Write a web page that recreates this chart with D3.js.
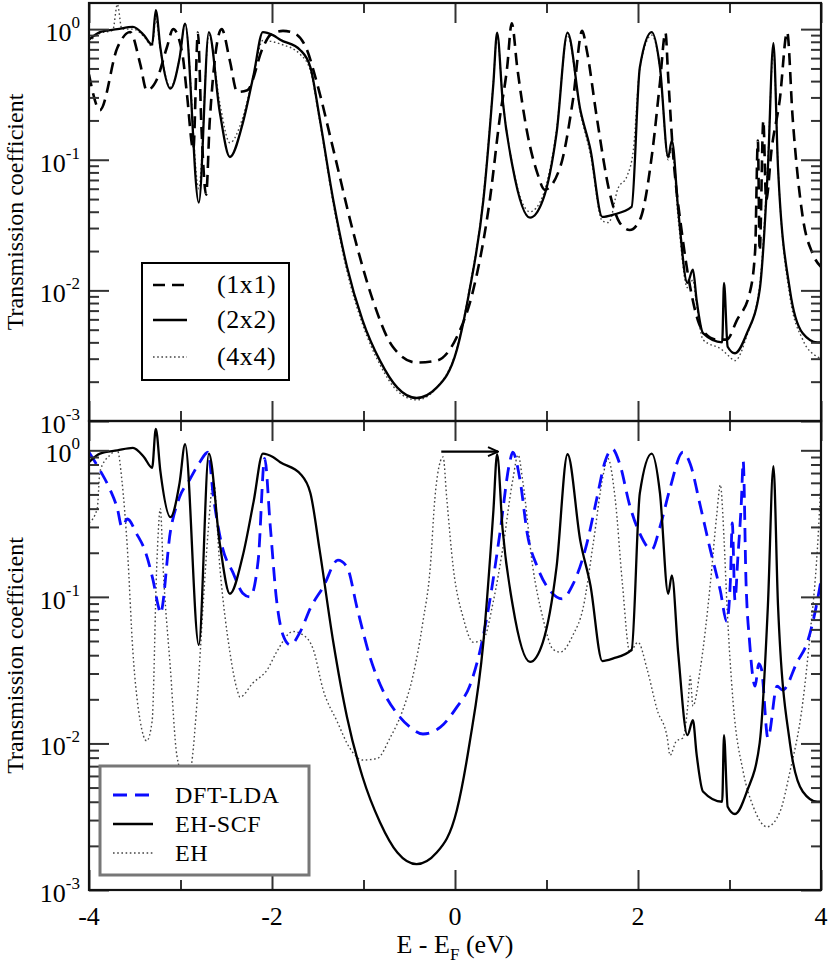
<!DOCTYPE html>
<html><head><meta charset="utf-8">
<script src="https://cdn.jsdelivr.net/npm/d3@7"></script>
<style>
body{margin:0;background:#fff;}
svg{display:block;}
text{font-family:'Liberation Serif','Times New Roman',Times,'DejaVu Serif',serif;}
</style></head><body>
<svg id="chart" width="830" height="965" font-family="Liberation Serif, Times New Roman, DejaVu Serif, serif"></svg>
<script>
// ---------- data ----------
const xMajor = [-4,-2,0,2,4];
const xMinor = [-3,-1,1,3];
const xLabels = ["-4","-2","0","2","4"];
const yMajor = [1e-3,1e-2,1e-1,1];
const yExp = ["-3","-2","-1","0"];
const yTitle = "Transmission coefficient";
const legendTop = ["(1x1)","(2x2)","(4x4)"];
const legendBottom = ["DFT-LDA","EH-SCF","EH"];

// (2x2) supercell = EH-SCF  [E - EF (eV), T]
const cell2x2 = [[-4.00,0.83],[-3.88,0.95],[-3.69,1.0],[-3.52,1.04],[-3.40,0.9],[-3.31,0.76],[-3.27,1.4],[-3.22,0.72],[-3.11,0.35],[-3.01,0.6],[-2.95,1.1],[-2.80,0.047],[-2.69,0.95],[-2.57,0.23],[-2.46,0.105],[-2.32,0.19],[-2.20,0.45],[-2.10,0.95],[-1.99,0.90],[-1.91,0.83],[-1.69,0.69],[-1.58,0.51],[-1.48,0.21],[-1.33,0.049],[-1.18,0.0151],[-1.01,0.0059],[-0.82,0.0029],[-0.63,0.0018],[-0.42,0.0015],[-0.20,0.0018],[0.02,0.0035],[0.16,0.0101],[0.31,0.049],[0.42,0.39],[0.46,0.94],[0.52,0.29],[0.63,0.088],[0.82,0.036],[0.96,0.049],[1.11,0.16],[1.23,0.94],[1.37,0.24],[1.48,0.12],[1.61,0.0365],[1.73,0.038],[1.93,0.0435],[2.02,0.51],[2.15,0.95],[2.24,0.51],[2.33,0.105],[2.37,0.14],[2.44,0.041],[2.54,0.0114],[2.60,0.0144],[2.64,0.0085],[2.71,0.0047],[2.92,0.0040],[2.94,0.0114],[2.98,0.0037],[3.06,0.0033],[3.19,0.0047],[3.33,0.0101],[3.42,0.088],[3.48,0.78],[3.53,0.088],[3.66,0.0101],[3.80,0.0047],[3.96,0.0040],[4.00,0.0040]];

const cell1x1 = [[-4.00,0.45],[-3.88,0.24],[-3.69,0.72],[-3.55,0.95],[-3.44,0.54],[-3.37,0.34],[-3.26,0.41],[-3.15,0.72],[-3.08,1.0],[-2.98,0.65],[-2.93,0.32],[-2.86,0.12],[-2.81,0.94],[-2.77,0.17],[-2.72,0.054],[-2.68,0.20],[-2.55,1.0],[-2.46,0.57],[-2.38,0.33],[-2.27,0.34],[-2.10,0.72],[-2.02,0.90],[-1.88,0.97],[-1.77,0.94],[-1.62,0.70],[-1.51,0.39],[-1.33,0.12],[-1.11,0.0275],[-0.90,0.0085],[-0.68,0.0037],[-0.42,0.0028],[-0.20,0.0029],[0.02,0.0044],[0.20,0.0101],[0.38,0.049],[0.49,0.21],[0.57,0.51],[0.62,1.11],[0.68,0.51],[0.79,0.16],[0.90,0.079],[0.98,0.059],[1.15,0.088],[1.29,0.29],[1.39,0.97],[1.44,0.69],[1.55,0.21],[1.69,0.056],[1.80,0.033],[1.91,0.029],[2.02,0.0346],[2.16,0.12],[2.24,0.39],[2.30,0.94],[2.33,0.43],[2.38,0.12],[2.48,0.0275],[2.57,0.0106],[2.70,0.0050],[2.86,0.0042],[2.97,0.0042],[3.08,0.0059],[3.22,0.0095],[3.28,0.020],[3.31,0.14],[3.33,0.020],[3.37,0.20],[3.40,0.049],[3.46,0.12],[3.55,0.29],[3.63,0.95],[3.69,0.21],[3.80,0.0365],[3.91,0.019],[4.00,0.0151]];

const cell4x4 = [[-4.00,0.8],[-3.88,0.93],[-3.74,0.98],[-3.69,1.55],[-3.64,1.0],[-3.52,1.0],[-3.40,0.88],[-3.31,0.74],[-3.27,1.2],[-3.22,0.7],[-3.11,0.36],[-3.01,0.6],[-2.95,1.1],[-2.80,0.06],[-2.69,0.9],[-2.57,0.27],[-2.46,0.135],[-2.32,0.21],[-2.20,0.45],[-2.10,0.82],[-1.99,0.8],[-1.91,0.77],[-1.69,0.64],[-1.58,0.48],[-1.48,0.2],[-1.33,0.046],[-1.18,0.014],[-1.01,0.0055],[-0.82,0.0027],[-0.63,0.0017],[-0.42,0.00145],[-0.20,0.0018],[0.02,0.0036],[0.16,0.0105],[0.31,0.052],[0.42,0.4],[0.46,0.9],[0.52,0.3],[0.63,0.09],[0.82,0.04],[0.96,0.053],[1.11,0.17],[1.23,0.9],[1.37,0.23],[1.48,0.11],[1.61,0.034],[1.68,0.033],[1.78,0.06],[1.88,0.075],[1.95,0.12],[2.02,0.5],[2.15,0.9],[2.24,0.5],[2.33,0.1],[2.37,0.12],[2.44,0.035],[2.54,0.0105],[2.60,0.012],[2.64,0.0078],[2.71,0.0042],[2.92,0.0035],[2.98,0.0032],[3.06,0.0029],[3.19,0.0045],[3.33,0.011],[3.42,0.1],[3.48,0.7],[3.53,0.09],[3.66,0.009],[3.80,0.0042],[3.96,0.0031],[4.00,0.003]];

const dftLda = [[-4.00,0.97],[-3.88,0.73],[-3.77,0.54],[-3.69,0.40],[-3.64,0.30],[-3.58,0.34],[-3.48,0.27],[-3.38,0.2],[-3.30,0.13],[-3.24,0.085],[-3.22,0.077],[-3.11,0.28],[-3.01,0.48],[-2.90,0.63],[-2.79,0.83],[-2.70,0.97],[-2.64,0.48],[-2.54,0.215],[-2.43,0.148],[-2.32,0.106],[-2.24,0.10],[-2.15,0.18],[-2.08,0.88],[-2.02,0.31],[-1.95,0.095],[-1.88,0.055],[-1.80,0.047],[-1.69,0.058],[-1.58,0.084],[-1.44,0.117],[-1.28,0.178],[-1.18,0.160],[-1.07,0.084],[-0.93,0.039],[-0.79,0.0231],[-0.63,0.0159],[-0.49,0.0129],[-0.35,0.0116],[-0.16,0.0129],[0.02,0.0177],[0.16,0.0246],[0.27,0.042],[0.38,0.094],[0.49,0.27],[0.60,0.84],[0.63,0.97],[0.71,0.63],[0.79,0.27],[0.90,0.160],[1.04,0.110],[1.17,0.097],[1.29,0.122],[1.44,0.23],[1.55,0.47],[1.64,0.84],[1.72,1.02],[1.80,0.81],[1.91,0.42],[2.02,0.27],[2.15,0.21],[2.24,0.30],[2.35,0.55],[2.49,0.97],[2.57,0.81],[2.68,0.42],[2.79,0.21],[2.90,0.110],[2.97,0.068],[3.01,0.13],[3.03,0.32],[3.06,0.095],[3.09,0.18],[3.13,0.45],[3.15,0.84],[3.18,0.13],[3.22,0.049],[3.28,0.0246],[3.32,0.035],[3.35,0.032],[3.42,0.0109],[3.52,0.0246],[3.58,0.0231],[3.74,0.036],[3.85,0.049],[3.96,0.094],[4.00,0.13]];

const ehPlain = [[-4.00,0.32],[-3.91,0.40],[-3.88,0.72],[-3.77,0.93],[-3.69,1.0],[-3.64,0.62],[-3.58,0.21],[-3.52,0.042],[-3.44,0.0142],[-3.37,0.0104],[-3.31,0.0142],[-3.26,0.16],[-3.22,0.40],[-3.19,0.16],[-3.11,0.032],[-3.04,0.0083],[-2.97,0.0061],[-2.90,0.0064],[-2.82,0.0189],[-2.75,0.094],[-2.70,0.27],[-2.64,0.62],[-2.57,0.16],[-2.46,0.042],[-2.38,0.0231],[-2.35,0.0207],[-2.21,0.0258],[-2.05,0.032],[-1.95,0.042],[-1.77,0.058],[-1.66,0.055],[-1.55,0.044],[-1.44,0.0231],[-1.29,0.0142],[-1.15,0.0093],[-1.01,0.0077],[-0.85,0.0079],[-0.71,0.0109],[-0.57,0.0169],[-0.46,0.0288],[-0.35,0.068],[-0.27,0.16],[-0.22,0.47],[-0.16,0.84],[-0.13,0.9],[-0.09,0.47],[-0.02,0.16],[0.09,0.072],[0.20,0.049],[0.31,0.0515],[0.42,0.094],[0.52,0.21],[0.63,0.62],[0.69,0.93],[0.74,0.62],[0.85,0.16],[0.96,0.072],[1.07,0.044],[1.15,0.042],[1.29,0.055],[1.40,0.084],[1.51,0.23],[1.62,0.68],[1.67,0.88],[1.75,0.47],[1.83,0.122],[1.91,0.042],[2.00,0.049],[2.10,0.032],[2.21,0.0169],[2.32,0.0109],[2.35,0.0083],[2.42,0.0104],[2.49,0.0109],[2.55,0.02],[2.57,0.0288],[2.60,0.018],[2.68,0.032],[2.79,0.122],[2.86,0.36],[2.90,0.58],[2.94,0.25],[2.97,0.094],[3.04,0.0189],[3.15,0.0064],[3.26,0.0037],[3.41,0.0027],[3.55,0.0034],[3.66,0.0064],[3.80,0.0189],[3.88,0.055],[3.96,0.21],[4.00,0.62]];

const arrowFrom = [-0.15, 0.98];
const arrowTo = [0.47, 0.98];

// ---------- layout ----------
const FONT = "'Liberation Serif','Times New Roman',Times,'DejaVu Serif',serif";
const L = 89, R = 821, T1 = 3, B1 = 421, T2 = 421, B2 = 890;
const yMax = Math.pow(10, 0.2);
const x = d3.scaleLinear().domain([-4, 4]).range([L, R]);
const yTop = d3.scaleLog().domain([1e-3, yMax]).range([B1, T1]);
const yBot = d3.scaleLog().domain([1e-3, yMax]).range([B2, T2]);
const svg = d3.select('#chart');

const defs = svg.append('defs');
defs.append('clipPath').attr('id','clipTop').append('rect').attr('x',L).attr('y',T1).attr('width',R-L).attr('height',B1-T1);
defs.append('clipPath').attr('id','clipBot').append('rect').attr('x',L).attr('y',T2).attr('width',R-L).attr('height',B2-T2);
defs.append('marker').attr('id','arrowHead').attr('viewBox','0 0 12 12').attr('refX',11).attr('refY',6)
  .attr('markerWidth',12).attr('markerHeight',12).attr('markerUnits','userSpaceOnUse').attr('orient','auto')
  .append('path').attr('d','M1,1.5 L11,6 L1,10.5').attr('fill','none').attr('stroke','#000').attr('stroke-width',2);

function minorLog(){ const out=[]; for(let k=-3;k<=0;k++) for(let m=2;m<=9;m++){ const v=m*Math.pow(10,k); if(v<yMax) out.push(v);} return out; }

function drawTicks(y, top, bottom){
  const g = svg.append('g');
  const add = (axis, tx, ty) => {
    const a = g.append('g').attr('transform', `translate(${tx},${ty})`).call(axis);
    a.select('.domain').remove();
    a.selectAll('text').remove();
    a.selectAll('line').attr('stroke', '#333').attr('stroke-width', 2);
  };
  add(d3.axisLeft(y).tickValues(yMajor).tickSize(-20), L, 0);
  add(d3.axisLeft(y).tickValues(minorLog()).tickSize(-10), L, 0);
  add(d3.axisRight(y).tickValues(yMajor).tickSize(-20), R, 0);
  add(d3.axisRight(y).tickValues(minorLog()).tickSize(-10), R, 0);
  add(d3.axisTop(x).tickValues(xMajor).tickSize(-20), 0, top);
  add(d3.axisTop(x).tickValues(xMinor).tickSize(-10), 0, top);
  add(d3.axisBottom(x).tickValues(xMajor).tickSize(-20), 0, bottom);
  add(d3.axisBottom(x).tickValues(xMinor).tickSize(-10), 0, bottom);
}

function yLabels(y){
  const t = svg.append('g').selectAll('text').data(yMajor).join('text')
    .attr('x', 80).attr('y', d => y(d) + 12).attr('text-anchor', 'end')
    .attr('font-family', FONT).attr('fill', '#000');
  t.append('tspan').attr('font-size', 26).text('10');
  t.append('tspan').attr('font-size', 17).attr('dy', -13).text((d,i) => yExp[i]);
}

function series(y, clip, data, style){
  const line = d3.line().x(d => x(d[0])).y(d => y(d[1])).curve(d3.curveMonotoneX);
  svg.append('path').datum(data).attr('clip-path', `url(#${clip})`)
    .attr('d', line).attr('fill', 'none')
    .attr('stroke', style.c).attr('stroke-width', style.w)
    .attr('stroke-dasharray', style.d || null)
    .attr('stroke-linejoin', 'round');
}

const S_solid = {c:'#000', w:2.3};
const S_dash = {c:'#000', w:2.6, d:'12,7'};
const S_dot = {c:'#444', w:1.4, d:'1.6,2.6'};
const S_blue = {c:'#0b0bff', w:2.8, d:'14,8'};

// top panel
series(yTop, 'clipTop', cell4x4, S_dot);
series(yTop, 'clipTop', cell1x1, S_dash);
series(yTop, 'clipTop', cell2x2, S_solid);
// bottom panel
series(yBot, 'clipBot', ehPlain, S_dot);
series(yBot, 'clipBot', dftLda, S_blue);
series(yBot, 'clipBot', cell2x2, S_solid);

drawTicks(yTop, T1, B1);
drawTicks(yBot, T2, B2);

svg.append('rect').attr('x',L).attr('y',T1).attr('width',R-L).attr('height',B1-T1).attr('fill','none').attr('stroke','#111').attr('stroke-width',2.2);
svg.append('rect').attr('x',L).attr('y',T2).attr('width',R-L).attr('height',B2-T2).attr('fill','none').attr('stroke','#111').attr('stroke-width',2.2);

yLabels(yTop);
yLabels(yBot);

// y titles
[[yTop,(T1+B1)/2],[yBot,(T2+B2)/2]].forEach(([y,c]) => {
  svg.append('text').attr('transform', `translate(23,${c}) rotate(-90)`).attr('text-anchor','middle')
    .attr('font-family', FONT).attr('font-size', 24).attr('fill','#000').text(yTitle);
});

// x tick labels
svg.append('g').selectAll('text').data(xMajor).join('text')
  .attr('x', d => x(d)).attr('y', 925).attr('text-anchor','middle').attr('font-family', FONT).attr('font-size', 26).attr('fill','#000')
  .text((d,i) => xLabels[i]);

// x title
const xt = svg.append('text').attr('x', x(0)).attr('y', 953).attr('text-anchor','middle').attr('font-family', FONT).attr('font-size', 26).attr('fill','#000');
xt.append('tspan').text('E - E');
xt.append('tspan').attr('font-size', 17).attr('dy', 7).text('F');
xt.append('tspan').attr('dy', -7).text(' (eV)');

// arrow
svg.append('line').attr('x1', x(arrowFrom[0])).attr('y1', yBot(arrowFrom[1]))
  .attr('x2', x(arrowTo[0])).attr('y2', yBot(arrowTo[1]))
  .attr('stroke','#000').attr('stroke-width',2.2).attr('marker-end','url(#arrowHead)');

// legends
function legend(box, rows, names, styles, sx0, sx1, tx, boxStroke, boxW, fs){
  svg.append('rect').attr('x',box[0]).attr('y',box[1]).attr('width',box[2]-box[0]).attr('height',box[3]-box[1])
    .attr('fill','#fff').attr('stroke',boxStroke).attr('stroke-width',boxW);
  names.forEach((n,i) => {
    const st = styles[i];
    svg.append('line').attr('x1',sx0).attr('x2',sx1).attr('y1',rows[i]).attr('y2',rows[i])
      .attr('stroke',st.c).attr('stroke-width',st.w).attr('stroke-dasharray',st.d||null);
    svg.append('text').attr('x',tx).attr('y',rows[i]+8).attr('font-family', FONT).attr('font-size',fs)
      .attr('letter-spacing', 0.6).attr('fill','#000').text(n);
  });
}
legend([142,263,289,380],[285,320,357],legendTop,[S_dash,S_solid,S_dot],153,187,217,'#000',2,26);
legend([100,766,309,875],[795,824,853],legendBottom,[S_blue,S_solid,S_dot],113,153,175,'#777',3,24);
</script>
</body></html>
